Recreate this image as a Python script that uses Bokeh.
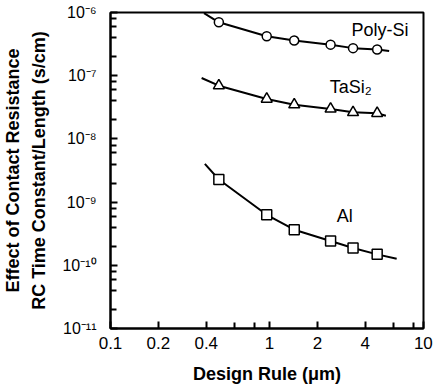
from bokeh.plotting import figure
from bokeh.models import FixedTicker, Range1d
from bokeh.core.properties import value
from bokeh.embed import file_html
from bokeh.resources import INLINE

# ---- data ----
design_rule = [0.48, 0.96, 1.43, 2.42, 3.35, 4.75]

poly_y = [7.0e-7, 4.2e-7, 3.6e-7, 3.1e-7, 2.73e-7, 2.6e-7]
poly_curve_x = [0.387, 0.48, 0.96, 1.43, 2.42, 3.35, 4.75, 5.65]
poly_curve_y = [9.75e-7, 7.0e-7, 4.2e-7, 3.6e-7, 3.1e-7, 2.73e-7, 2.6e-7, 2.45e-7]

tasi_y = [6.95e-8, 4.28e-8, 3.48e-8, 2.98e-8, 2.63e-8, 2.54e-8]
tasi_curve_x = [0.374, 0.48, 0.96, 1.43, 2.42, 3.35, 4.75, 5.39]
tasi_curve_y = [9.2e-8, 6.95e-8, 4.28e-8, 3.48e-8, 2.98e-8, 2.63e-8, 2.54e-8, 2.33e-8]

al_y = [2.28e-9, 6.3e-10, 3.66e-10, 2.42e-10, 1.88e-10, 1.49e-10]
al_curve_x = [0.392, 0.48, 0.96, 1.43, 2.42, 3.35, 4.75, 6.3]
al_curve_y = [4.03e-9, 2.28e-9, 6.3e-10, 3.66e-10, 2.42e-10, 1.88e-10, 1.49e-10, 1.27e-10]

series_names = ["Poly-Si", "TaSi\u2082", "Al"]
name_x = [3.27, 2.39, 2.65]
name_y = [5.38e-7, 6.58e-8, 5.94e-10]

x_ticks = [0.1, 0.2, 0.4, 1, 2, 4, 10]
x_tick_labels = ["0.1", "0.2", "0.4", "1", "2", "4", "10"]
x_minor = [0.6, 0.8, 6, 8]
y_ticks = [1e-11, 1e-10, 1e-9, 1e-8, 1e-7, 1e-6]
y_tick_labels = ["10\u207b\u00b9\u00b9", "10\u207b\u00b9\u2070", "10\u207b\u2079",
                 "10\u207b\u2078", "10\u207b\u2077", "10\u207b\u2076"]
y_minor = [m * 10.0 ** e for e in range(-11, -6) for m in (2, 4, 6, 8)]

X_END = 9.29  # the frame stops just short of 10, as in the original
FONT = "Liberation Sans"

# the "10" label sits at the frame's right edge (its tick lies just outside)
x_tick_pos = [min(t, X_END * 0.998) for t in x_ticks]

p = figure(width=434, height=386, x_axis_type="log", y_axis_type="log",
           x_range=Range1d(0.1, X_END), y_range=Range1d(1e-11, 1e-6),
           output_backend="svg", toolbar_location=None,
           min_border_left=105, min_border_right=11, min_border_top=12,
           min_border_bottom=58)

p.xgrid.visible = False
p.ygrid.visible = False
p.outline_line_color = "black"
p.outline_line_width = 2
p.background_fill_color = "white"
p.border_fill_color = "white"

p.xaxis.ticker = FixedTicker(ticks=x_tick_pos, minor_ticks=x_minor)
p.yaxis.ticker = FixedTicker(ticks=y_ticks, minor_ticks=y_minor)
p.xaxis.major_label_overrides = dict(zip(x_tick_pos, x_tick_labels))
p.yaxis.major_label_overrides = dict(zip(y_ticks, y_tick_labels))

for ax in (p.xaxis, p.yaxis):
    ax.axis_line_width = 2
    ax.major_tick_line_width = 2
    ax.minor_tick_line_width = 2
    ax.major_tick_in = 7
    ax.major_tick_out = 0
    ax.minor_tick_in = 6
    ax.minor_tick_out = 0
    ax.major_label_text_font = FONT
    ax.major_label_text_color = "black"
    ax.axis_label_text_font = FONT
    ax.axis_label_text_font_style = "bold"
    ax.axis_label_text_font_size = "18px"
    ax.axis_label_text_color = "black"

p.xaxis.major_label_text_font_size = "17px"
p.yaxis.major_label_text_font_size = "16px"
p.xaxis.major_label_standoff = 8
p.yaxis.major_label_standoff = 14
p.xaxis.axis_label = "Design Rule (\u03bcm)"
p.yaxis.axis_label = "Effect of Contact Resistance\nRC Time Constant/Length (s/cm)"
p.xaxis.axis_label_standoff = 12
p.yaxis.axis_label_standoff = 10
p.yaxis.axis_label_text_line_height = 1.3

# curves
for cx, cy in ((poly_curve_x, poly_curve_y), (tasi_curve_x, tasi_curve_y), (al_curve_x, al_curve_y)):
    p.line(cx, cy, line_color="black", line_width=2)

p.scatter(design_rule, poly_y, marker="circle", size=9, fill_color="white",
          line_color="black", line_width=1.5)
p.scatter(design_rule, tasi_y, marker="triangle", size=11, fill_color="white",
          line_color="black", line_width=1.5)
p.scatter(design_rule, al_y, marker="square", size=10, fill_color="white",
          line_color="black", line_width=1.5)

p.text(x=name_x, y=name_y, text=series_names, text_font=value(FONT),
       text_font_size="18px", text_align="left", text_baseline="middle",
       text_color="black")

open("out.html", "w").write(file_html(p, INLINE))
